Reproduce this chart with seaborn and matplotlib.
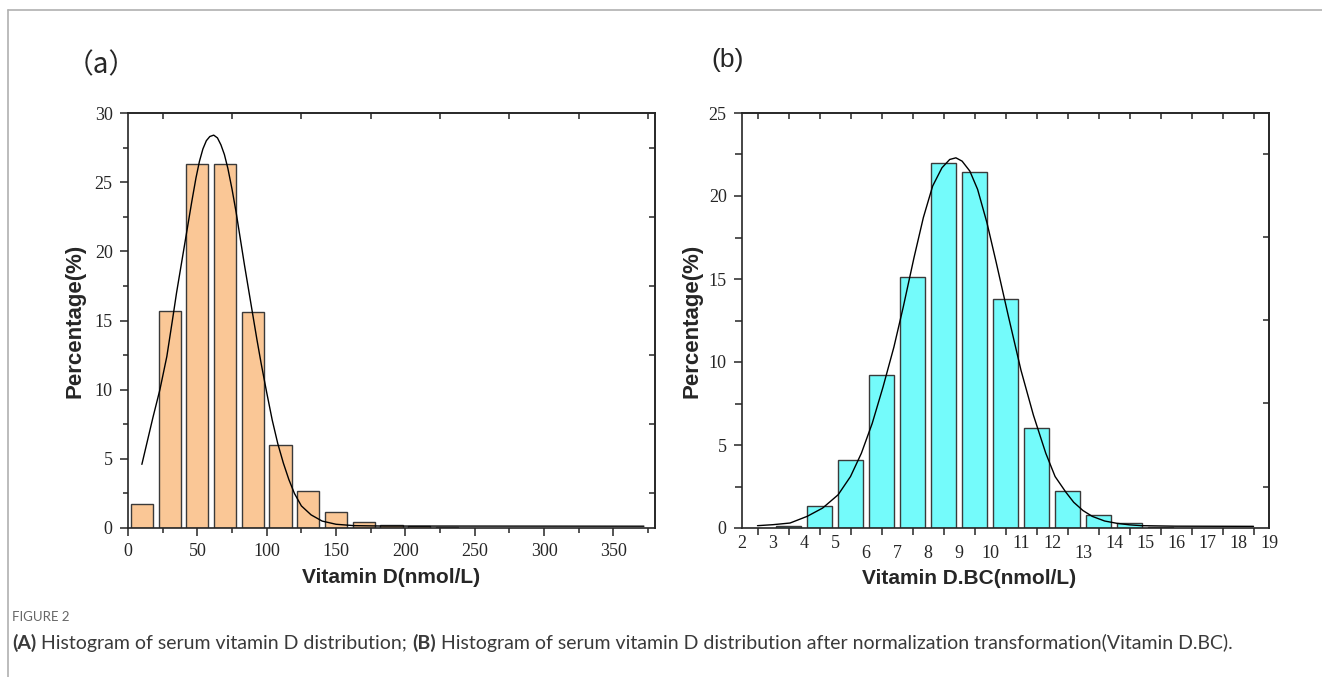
import numpy as np
import pandas as pd
import seaborn as sns
import matplotlib.pyplot as plt
from matplotlib.lines import Line2D
from matplotlib.ticker import FixedLocator, NullLocator

# -------------------------------------------------
# 1. Data
# -------------------------------------------------
# (a) raw vitamin D, bins of 20 nmol/L
vd_centers = [10, 30, 50, 70, 90, 110, 130, 150, 170, 190, 210, 230]
vd_percent = [1.7, 15.7, 26.3, 26.3, 15.6, 6.0, 2.7, 1.15, 0.45, 0.24, 0.12, 0.05]

# fitted curve drawn over (a)
vd_curve_x = [10, 14, 18, 23, 28, 32, 35, 39, 42.5, 46, 49, 51.5, 54, 56.5,
              59, 61.8, 64.5, 67, 69.5, 72, 75, 78, 81, 84, 87, 90, 93, 96,
              100, 104, 108, 112, 116, 120, 125, 132, 140, 150, 163, 185, 230, 372]
vd_curve_y = [4.6, 6.3, 8.0, 10.0, 12.4, 15.0, 17.0, 19.4, 21.5, 23.6, 25.3,
              26.5, 27.4, 28.0, 28.3, 28.4, 28.2, 27.7, 27.0, 26.0, 24.5, 22.8,
              20.9, 19.0, 17.2, 15.4, 13.6, 11.9, 9.8, 7.8, 6.1, 4.7, 3.5, 2.5,
              1.6, 0.95, 0.5, 0.27, 0.17, 0.14, 0.14, 0.13]

# (b) Box-Cox transformed vitamin D, bins of 1
bc_centers = [3.5, 4.5, 5.5, 6.5, 7.5, 8.5, 9.5, 10.5, 11.5, 12.5, 13.5, 14.5, 15.5]
bc_percent = [0.15, 1.3, 4.1, 9.2, 15.1, 22.0, 21.45, 13.8, 6.0, 2.2, 0.8, 0.28, 0.08]

bc_curve_x = [2.5, 3.0, 3.55, 4.1, 4.6, 5.1, 5.5, 5.85, 6.2, 6.55, 6.9, 7.2,
              7.55, 7.85, 8.15, 8.45, 8.7, 8.9, 9.1, 9.35, 9.6, 9.9, 10.2,
              10.6, 11.0, 11.4, 11.8, 12.1, 12.45, 12.7, 13.0, 13.3, 13.7,
              14.1, 14.5, 14.9, 16.0, 18.5]
bc_curve_y = [0.14, 0.2, 0.3, 0.7, 1.2, 2.0, 3.1, 4.5, 6.3, 8.5, 10.9, 13.3,
              16.3, 18.7, 20.6, 21.7, 22.2, 22.3, 22.1, 21.5, 20.4, 18.4, 16.0,
              12.7, 9.5, 6.8, 4.5, 3.1, 2.15, 1.55, 1.05, 0.7, 0.42, 0.28,
              0.19, 0.14, 0.11, 0.1]

bc_tick_labels = [str(v) for v in range(2, 20)]
bc_lowered = ["6", "7", "8", "9", "10", "13"]

vd = pd.DataFrame({"center": vd_centers, "percent": vd_percent})
bc = pd.DataFrame({"center": bc_centers, "percent": bc_percent})

# -------------------------------------------------
# 2. Style
# -------------------------------------------------
sns.set_style("ticks")
plt.rcParams["font.family"] = ["Liberation Serif", "DejaVu Serif"]
plt.rcParams["axes.linewidth"] = 1.2
plt.rcParams["xtick.major.width"] = 1.1
plt.rcParams["ytick.major.width"] = 1.1
plt.rcParams["xtick.minor.width"] = 1.1
plt.rcParams["ytick.minor.width"] = 1.1

EDGE = "#3a3a3a"
LABEL_FONT = dict(family="Liberation Sans", weight="bold")
CAP_FONT = dict(family="Lato", color="#3a3a3a", fontsize=14)

fig = plt.figure(figsize=(13.22, 6.77), dpi=100)
axA = fig.add_axes([128 / 1322, 149 / 677, 527 / 1322, 415 / 677])
axB = fig.add_axes([742 / 1322, 149 / 677, 527 / 1322, 415 / 677])

# -------------------------------------------------
# 3. Panel (a)
# -------------------------------------------------
sns.histplot(data=vd, x="center", weights="percent", binwidth=20, binrange=(0, 240),
             shrink=0.8, color="#FAC796", alpha=1, edgecolor=EDGE, linewidth=1.0, ax=axA)
sns.lineplot(x=vd_curve_x, y=vd_curve_y, color="black", linewidth=1.0, ax=axA)

axA.set_xlim(0, 380)
axA.set_ylim(0, 30)
axA.xaxis.set_major_locator(FixedLocator(range(0, 351, 50)))
axA.xaxis.set_minor_locator(FixedLocator(range(25, 376, 50)))
axA.yaxis.set_major_locator(FixedLocator(range(0, 31, 5)))
axA.yaxis.set_minor_locator(FixedLocator(np.arange(2.5, 30, 5)))
axA.tick_params(which="major", direction="out", length=6, labelsize=13, pad=5)
axA.tick_params(which="minor", direction="out", length=3.5)
axA.set_xlabel("Vitamin D(nmol/L)", fontsize=15, **LABEL_FONT)
axA.set_ylabel("Percentage(%)", fontsize=16, **LABEL_FONT)
axA.xaxis.set_label_coords(0.5, -0.097)
axA.yaxis.set_label_coords(-0.08, 0.5)

topA = axA.secondary_xaxis("top")
topA.set_xticks(range(25, 376, 50))
topA.tick_params(direction="in", length=4, labeltop=False, labelbottom=False)
rightA = axA.secondary_yaxis("right")
rightA.set_yticks(np.arange(2.5, 30, 5))
rightA.tick_params(direction="in", length=4, labelright=False, labelleft=False)

# -------------------------------------------------
# 4. Panel (b)
# -------------------------------------------------
sns.histplot(data=bc, x="center", weights="percent", binwidth=1, binrange=(3, 16),
             shrink=0.8, color="#74FBFB", alpha=1, edgecolor=EDGE, linewidth=1.0, ax=axB)
sns.lineplot(x=bc_curve_x, y=bc_curve_y, color="black", linewidth=1.0, ax=axB)

axB.set_xlim(2, 19)
axB.set_ylim(0, 25)
axB.xaxis.set_major_locator(FixedLocator(range(2, 20)))
axB.set_xticklabels(bc_tick_labels)
axB.xaxis.set_minor_locator(FixedLocator(np.arange(2.5, 19, 1)))
axB.yaxis.set_major_locator(FixedLocator(range(0, 26, 5)))
axB.yaxis.set_minor_locator(FixedLocator(np.arange(2.5, 25, 5)))
axB.tick_params(which="major", direction="out", length=6, labelsize=13, pad=5)
axB.tick_params(which="minor", direction="out", length=5)
axB.tick_params(axis="x", which="major", length=0)
axB.set_xlabel("Vitamin D.BC(nmol/L)", fontsize=15, **LABEL_FONT)
axB.set_ylabel("Percentage(%)", fontsize=16, **LABEL_FONT)
axB.xaxis.set_label_coords(0.43, -0.099)
axB.yaxis.set_label_coords(-0.075, 0.5)

topB = axB.secondary_xaxis("top")
topB.set_xticks(np.arange(2.5, 19, 1))
topB.tick_params(direction="in", length=4, labeltop=False, labelbottom=False)
rightB = axB.secondary_yaxis("right")
rightB.set_yticks(np.arange(2.5, 25, 5))
rightB.tick_params(direction="in", length=4, labelright=False, labelleft=False)

# staggered tick labels as in the original
for tick, lab in zip(axB.xaxis.get_major_ticks(), bc_tick_labels):
    tick.set_pad(12.5 if lab in bc_lowered else 5)

for sec in (topA, topB):
    sec.xaxis.set_minor_locator(NullLocator())
for sec in (rightA, rightB):
    sec.yaxis.set_minor_locator(NullLocator())

# -------------------------------------------------
# 5. Panel letters, caption and frame
# -------------------------------------------------
fig.text(101 / 1322, 1 - 65 / 677, "（a）", fontsize=20, ha="center", va="center",
         family=["Noto Sans CJK SC", "DejaVu Sans"])
fig.text(728 / 1322, 1 - 60 / 677, "(b)", fontsize=19, ha="center", va="center",
         family="Liberation Sans")

cap = fig.add_axes([0, 0, 1, 1])
cap.axis("off")
cap.set_xlim(0, 1)
cap.set_ylim(0, 1)
cap.text(12 / 1322, 1 - 617 / 677, "FIGURE 2", fontsize=9.5, color="#666666",
         family="Lato", va="center")
t1 = cap.text(12 / 1322, 1 - 652 / 677, "(A)", weight="bold", va="bottom", **CAP_FONT)
t2 = cap.annotate(" Histogram of serum vitamin D distribution; ", xy=(1, 0), xycoords=t1,
                  va="bottom", **CAP_FONT)
t3 = cap.annotate("(B)", xy=(1, 0), xycoords=t2, weight="bold", va="bottom", **CAP_FONT)
cap.annotate(" Histogram of serum vitamin D distribution after normalization "
             "transformation(Vitamin D.BC).", xy=(1, 0), xycoords=t3,
             va="bottom", **CAP_FONT)

fig.add_artist(Line2D([8 / 1322, 1], [1 - 10 / 677, 1 - 10 / 677],
                      color="#b0b0b0", linewidth=1.2, transform=fig.transFigure))
fig.add_artist(Line2D([8 / 1322, 8 / 1322], [0, 1 - 10 / 677],
                      color="#b0b0b0", linewidth=1.2, transform=fig.transFigure))

plt.savefig("out.png", dpi=100)
